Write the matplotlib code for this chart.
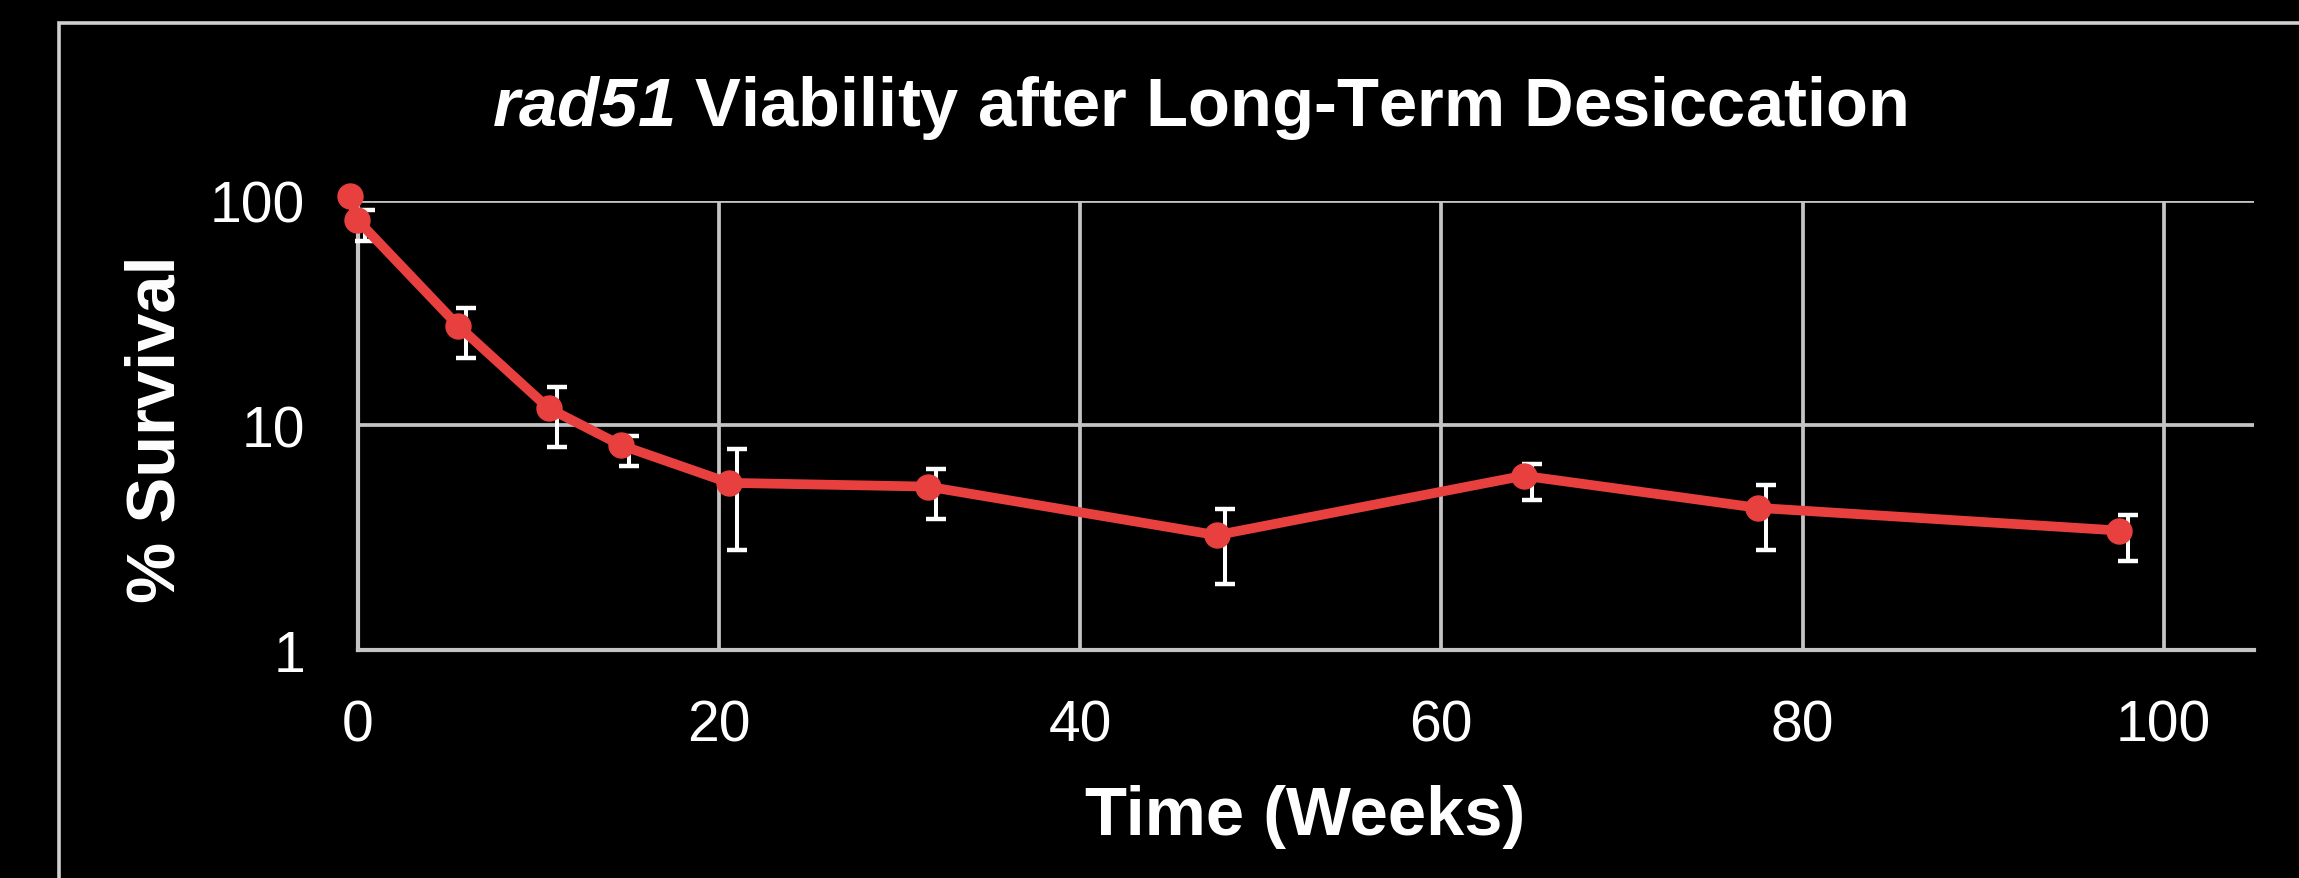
import matplotlib
matplotlib.use('Agg')
from matplotlib import pyplot as plt
from matplotlib.patches import Rectangle
from matplotlib import transforms
import numpy as np

weeks = [0, 0.4, 6, 11, 15, 21, 32, 48, 65, 78, 98]
survival = [100, 78.7, 26.5, 11.4, 7.8, 5.3, 5.1, 3.1, 5.7, 4.1, 3.25]
survival_err = [0, 12.3, 6.65, 3.37, 1.2, 2.51, 1.29, 1.13, 1.04, 1.32, 0.75]
x_ticks = [0, 20, 40, 60, 80, 100]
y_ticks = [1, 10, 100]
y_tick_labels = ['1', '10', '100']

plt.rcParams['font.family'] = ['Liberation Sans', 'DejaVu Sans']
plt.rcParams['mathtext.fontset'] = 'custom'
plt.rcParams['mathtext.it'] = 'Liberation Sans:italic:bold'
plt.rcParams['mathtext.rm'] = 'Liberation Sans:italic:bold'

red = '#E8403E'
grid_gray = '#C4C4C4'

fig = plt.figure(figsize=(22.99, 8.79), dpi=100, facecolor='black')
ax = fig.add_axes([0.1557, 0.2594, 0.8247, 0.5111])
ax.set_facecolor('black')

ax.set_yscale('log')
ax.set_xlim(0, 105)
ax.set_ylim(1, 100)
ax.set_xticks(x_ticks)
ax.set_yticks(y_ticks)
ax.set_yticklabels(y_tick_labels)
ax.yaxis.set_minor_locator(matplotlib.ticker.NullLocator())
ax.tick_params(axis='x', length=0, pad=35, labelsize=41, labelcolor='white')
ax.tick_params(axis='y', length=0, pad=38, labelsize=41, labelcolor='white')

ax.grid(True, which='major', color=grid_gray, linewidth=2.7)
ax.set_axisbelow(True)
for side in ['top', 'right']:
    ax.spines[side].set_visible(False)
for side in ['left', 'bottom']:
    ax.spines[side].set_color(grid_gray)
    ax.spines[side].set_linewidth(3)

x = np.array(weeks)
y = np.array(survival)
e = np.array(survival_err)

ax.errorbar(x[1:], y[1:], yerr=e[1:], fmt='none', ecolor='white',
            elinewidth=2.9, capsize=7.5, capthick=3.2, zorder=3, clip_on=False)

# markers sit a few pixels up-left of the error bars in the original
shift = transforms.offset_copy(ax.transData, fig=fig, x=-5.8, y=3.2, units='points')
ax.plot(x, y, color=red, linewidth=7, marker='o', markersize=18,
        transform=shift, zorder=4, clip_on=False, solid_joinstyle='round')

fig.text(0.5216, 0.8567, r'$\mathit{rad51}$ Viability after Long-Term Desiccation',
         color='white', fontsize=49.5, fontweight='bold', ha='center', va='baseline')
fig.text(0.5676, 0.05, 'Time (Weeks)', color='white', fontsize=49.5,
         fontweight='bold', ha='center', va='baseline')
fig.text(0.068, 0.512, '% Survival', color='white', fontsize=49.5,
         fontweight='bold', ha='center', va='center', rotation=90)

fig.add_artist(Rectangle((0.0255, -0.2), 1.2, 0.9727 + 0.2, transform=fig.transFigure,
                         fill=False, edgecolor='#D0D0D0', linewidth=2.6))

fig.savefig('out.png', dpi=100, facecolor='black')
